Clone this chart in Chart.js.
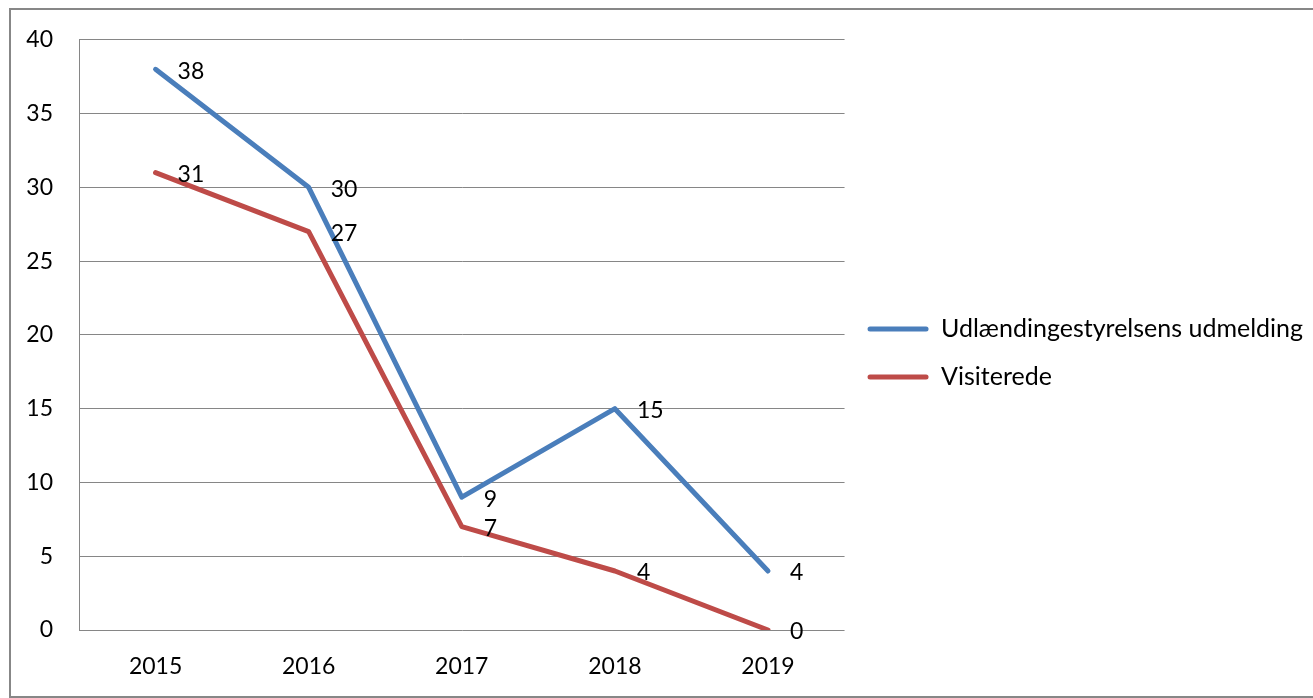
<!DOCTYPE html>
<html>
<head>
<meta charset="utf-8">
<script src="https://cdn.jsdelivr.net/npm/chart.js@4.4.1/dist/chart.umd.min.js"></script>
<style>
  html, body { margin: 0; padding: 0; background: #fff; overflow: hidden; }
  #wrap { position: relative; width: 1313px; height: 698px; }
  #frame { position: absolute; left: 9px; top: 8px; width: 1320px; height: 686px; border: 2px solid #878787; pointer-events: none; }
  canvas { position: absolute; left: 0; top: 0; }
</style>
</head>
<body>
<div id="wrap">
  <canvas id="chart" width="1313" height="698"></canvas>
  <div id="frame"></div>
</div>
<script>
const years = ['2015', '2016', '2017', '2018', '2019'];
const udmelding = [38, 30, 9, 15, 4];
const visiterede = [31, 27, 7, 4, 0];
const yTicks = [0, 5, 10, 15, 20, 25, 30, 35, 40];

const FAMILY = 'Lato, "Open Sans", sans-serif';
const FONT = { family: FAMILY, size: 23 };
const LEGEND_FONT = { family: FAMILY, size: 25 };

// tal ved hvert punkt, til højre for punktet
const pointLabels = {
  id: 'pointLabels',
  afterLayout(chart) {
    // x-aksens etiketter må gå helt ned til bunden (ellers klippes de)
    chart.scales.x.bottom = chart.height;
  },
  afterDatasetsDraw(chart) {
    const ctx = chart.ctx;
    ctx.save();
    ctx.font = FONT.size + 'px ' + FONT.family;
    ctx.fillStyle = '#000';
    ctx.textAlign = 'left';
    ctx.textBaseline = 'middle';
    chart.data.datasets.forEach((ds, i) => {
      chart.getDatasetMeta(i).data.forEach((pt, j) => {
        ctx.fillText(String(ds.data[j]), pt.x + 22, pt.y + 2);
      });
    });
    ctx.restore();
  }
};

new Chart(document.getElementById('chart').getContext('2d'), {
  type: 'line',
  data: {
    labels: years,
    datasets: [{
      label: 'Udlændingestyrelsens udmelding',
      data: udmelding,
      borderColor: '#4A7EBB',
      backgroundColor: '#4A7EBB',
      borderWidth: 5,
      borderCapStyle: 'round',
      borderJoinStyle: 'round',
      pointRadius: 0,
      tension: 0
    }, {
      label: 'Visiterede',
      data: visiterede,
      borderColor: '#BE4B48',
      backgroundColor: '#BE4B48',
      borderWidth: 5,
      borderCapStyle: 'round',
      borderJoinStyle: 'round',
      pointRadius: 0,
      tension: 0
    }]
  },
  options: {
    responsive: false,
    animation: false,
    layout: { padding: { top: 38, left: 3, right: 0, bottom: 30 } },
    plugins: {
      legend: {
        position: 'right',
        align: 'center',
        maxWidth: 520,
        labels: {
          font: LEGEND_FONT,
          color: '#000',
          boxWidth: 61,
          boxHeight: 5,
          padding: 23,
          useBorderRadius: true,
          borderRadius: 2.5,
          generateLabels(chart) {
            const items = Chart.defaults.plugins.legend.labels.generateLabels(chart);
            items.forEach(it => { it.lineWidth = 0; });
            return items;
          }
        }
      },
      tooltip: { enabled: false }
    },
    scales: {
      x: {
        offset: true,
        grid: { display: false, drawTicks: false },
        border: { display: false },
        ticks: { font: FONT, color: '#000', padding: 23 },
        afterFit(scale) { scale.height = 38; }
      },
      y: {
        min: 0,
        max: 40,
        afterBuildTicks(scale) { scale.ticks = yTicks.map(v => ({ value: v })); },
        grid: { color: '#868686', lineWidth: 1, drawTicks: false },
        border: { display: true, color: '#868686', width: 1 },
        ticks: { font: FONT, color: '#000', crossAlign: 'near', padding: 26 },
        afterFit(scale) { scale.width = 76; }
      }
    }
  },
  plugins: [pointLabels]
});
</script>
</body>
</html>
